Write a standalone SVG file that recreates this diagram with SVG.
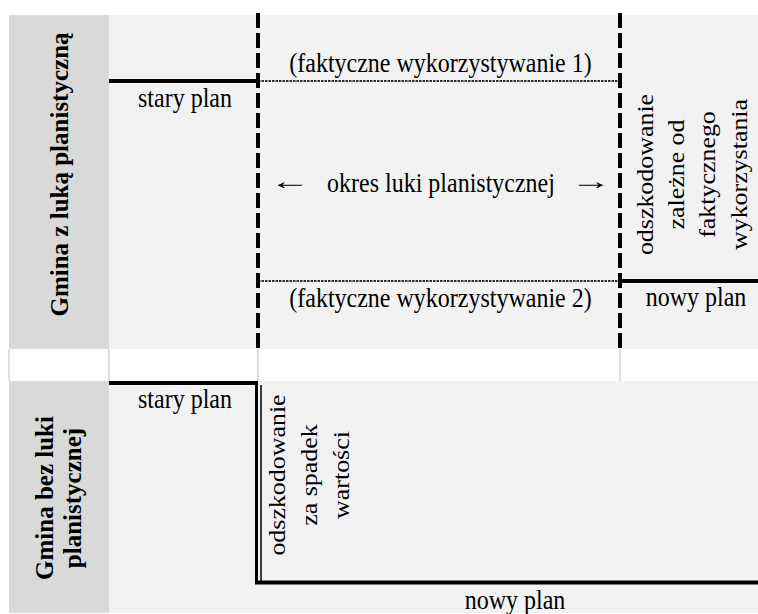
<svg xmlns="http://www.w3.org/2000/svg" width="758" height="614" viewBox="0 0 758 614">
  <style>
    .lab { fill: #d9d9d9; }
    .cell { fill: #f2f2f2; }
    .t { font-family: "Liberation Serif", "Times New Roman", serif; font-size: 24px; fill: #000; }
    .b { font-family: "Liberation Serif", "Times New Roman", serif; font-size: 25px; font-weight: bold; fill: #000; }
    .mid { text-anchor: middle; }
    .thick { stroke: #000; stroke-width: 4; fill: none; }
    .dash { stroke: #000; stroke-width: 4; stroke-dasharray: 15 5; fill: none; }
    .dot { stroke: #333; stroke-width: 1.8; stroke-dasharray: 2.5 1; fill: none; }
    .grid { stroke: #d4d4d4; stroke-width: 1.5; fill: none; }
  </style>
  <rect x="0" y="0" width="758" height="614" fill="#fff"/>

  <g id="row-top">
    <rect class="lab" x="9" y="15" width="100" height="334"/>
    <rect class="cell" x="109" y="15" width="649" height="334"/>
  </g>
  <g id="row-gap">
    <rect x="9" y="349" width="749" height="32" fill="#fff"/>
    <line class="grid" x1="9" y1="349" x2="9" y2="381"/>
    <line class="grid" x1="109" y1="349" x2="109" y2="381"/>
    <line class="grid" x1="258" y1="349" x2="258" y2="381"/>
    <line class="grid" x1="620" y1="349" x2="620" y2="381"/>
  </g>
  <g id="row-bottom">
    <rect class="lab" x="9" y="381" width="100" height="232"/>
    <rect class="cell" x="109" y="381" width="649" height="232"/>
  </g>

  <g id="connectors">
    <line class="thick" x1="109" y1="81" x2="258" y2="81"/>
    <line class="dot" x1="258" y1="81" x2="620" y2="81"/>
    <line class="dot" x1="258" y1="281" x2="620" y2="281"/>
    <line class="thick" x1="620" y1="281" x2="758" y2="281"/>
    <line class="dash" x1="258" y1="13" x2="258" y2="349"/>
    <line class="dash" x1="620" y1="13" x2="620" y2="349"/>
    <line class="thick" x1="109" y1="383" x2="258" y2="383"/>
    <line stroke="#000" stroke-width="3" x1="256.5" y1="381" x2="256.5" y2="584"/>
    <line stroke="#000" stroke-width="1.5" x1="261" y1="385" x2="261" y2="582"/>
    <line class="thick" x1="255" y1="582.5" x2="758" y2="582.5"/>
  </g>

  <g id="label-z-luka">
    <text class="b mid" transform="translate(68,174.5) rotate(-90)">Gmina z luką planistyczną</text>
  </g>
  <g id="label-bez-luki">
    <text class="b mid" transform="translate(53,498) rotate(-90)">Gmina bez luki</text>
    <text class="b mid" transform="translate(81,498) rotate(-90)">planistycznej</text>
  </g>

  <g id="stary-plan-1">
    <text class="t mid" transform="translate(185,107) scale(1,1.12)">stary plan</text>
  </g>
  <g id="faktyczne-1">
    <text class="t mid" transform="translate(440.5,72) scale(1,1.12)">(faktyczne wykorzystywanie 1)</text>
  </g>
  <g id="okres">
    <text class="t mid" transform="translate(290,189) scale(1.7,1)">←</text>
    <text class="t mid" transform="translate(441,192) scale(1,1.12)">okres luki planistycznej</text>
    <text class="t mid" transform="translate(591,189) scale(1.7,1)">→</text>
  </g>
  <g id="faktyczne-2">
    <text class="t mid" transform="translate(440.5,307) scale(1,1.12)">(faktyczne wykorzystywanie 2)</text>
  </g>
  <g id="odszkodowanie-1">
    <text class="t mid" transform="translate(653,174.5) rotate(-90) scale(1.08,1)">odszkodowanie</text>
    <text class="t mid" transform="translate(684,174.5) rotate(-90) scale(1.08,1)">zależne od</text>
    <text class="t mid" transform="translate(715,174.5) rotate(-90) scale(1.08,1)">faktycznego</text>
    <text class="t mid" transform="translate(747,174.5) rotate(-90) scale(1.08,1)">wykorzystania</text>
  </g>
  <g id="nowy-plan-1">
    <text class="t mid" transform="translate(696,306) scale(1,1.12)">nowy plan</text>
  </g>

  <g id="stary-plan-2">
    <text class="t mid" transform="translate(185,408) scale(1,1.12)">stary plan</text>
  </g>
  <g id="odszkodowanie-2">
    <text class="t mid" transform="translate(285,475) rotate(-90) scale(1.08,1)">odszkodowanie</text>
    <text class="t mid" transform="translate(317,475) rotate(-90) scale(1.08,1)">za spadek</text>
    <text class="t mid" transform="translate(349,475) rotate(-90) scale(1.08,1)">wartości</text>
  </g>
  <g id="nowy-plan-2">
    <text class="t mid" transform="translate(515,609) scale(1,1.12)">nowy plan</text>
  </g>
</svg>
